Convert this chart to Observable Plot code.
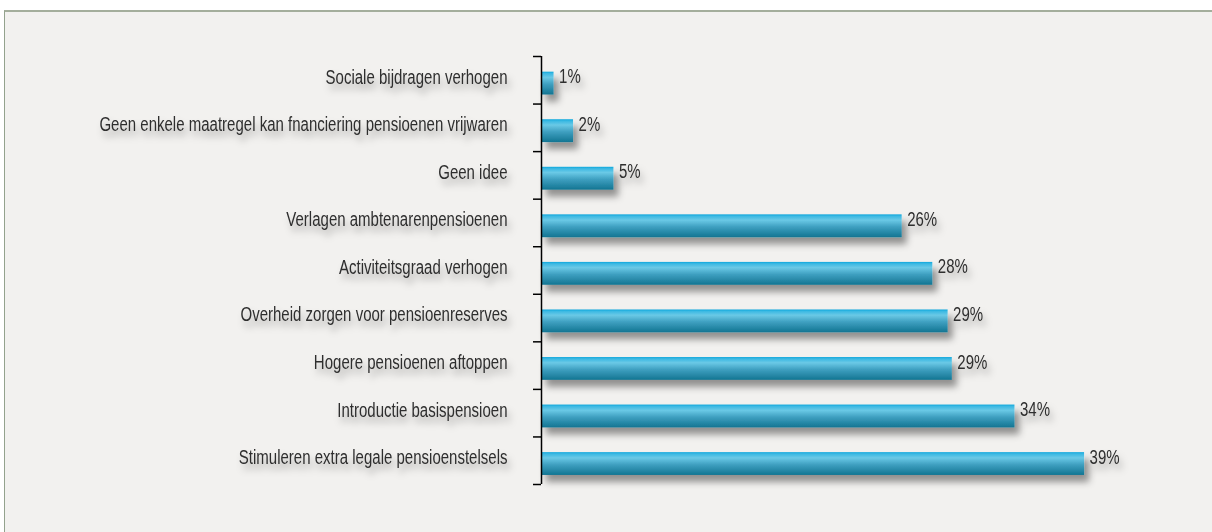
<!DOCTYPE html>
<html><head><meta charset="utf-8">
<script src="https://cdn.jsdelivr.net/npm/d3@7"></script>
<script src="https://cdn.jsdelivr.net/npm/@observablehq/plot@0.6"></script>
<style>
body{margin:0;background:#fff;width:1212px;height:532px;overflow:hidden;position:relative}
#frame{position:absolute;left:4px;top:10px;width:1220px;height:540px;background:#f2f1ef;border-top:2px solid #a4ae9c;border-left:1px solid #93a28d}
#chart{position:absolute;left:0;top:0}
</style></head><body><div id="frame"></div><div id="chart"></div>
<script>
const categories = [
  "Sociale bijdragen verhogen",
  "Geen enkele maatregel kan fnanciering pensioenen vrijwaren",
  "Geen idee",
  "Verlagen ambtenarenpensioenen",
  "Activiteitsgraad verhogen",
  "Overheid zorgen voor pensioenreserves",
  "Hogere pensioenen aftoppen",
  "Introductie basispensioen",
  "Stimuleren extra legale pensioenstelsels"
];
const values = [0.9, 2.3, 5.2, 25.9, 28.1, 29.2, 29.5, 34.0, 39.0];
const valueLabels = ["1%", "2%", "5%", "26%", "28%", "29%", "29%", "34%", "39%"];

const data = categories.map((c, i) => ({category: c, value: values[i], label: valueLabels[i], i}));
const font = "'Liberation Sans', Arial, sans-serif";

const plot = Plot.plot({
  width: 1212, height: 532,
  marginLeft: 541, marginRight: 114, marginTop: 56, marginBottom: 48,
  style: {background: "transparent", overflow: "visible", fontFamily: font},
  x: {domain: [0, 40], axis: null},
  y: {domain: [0, 9], reverse: true, axis: null},
  marks: [
    Plot.rectX(data, {x1: 0, x2: "value", y1: d => d.i + 0.33, y2: d => d.i + 0.81, fill: "url(#barGrad)", className: "bars"}),
    Plot.text(data, {x: 0, y: d => d.i + 0.43, text: "category", textAnchor: "end", dx: -34, fontSize: 21, fill: "#2e2e2e", className: "cats"}),
    Plot.text(data, {x: "value", y: d => d.i + 0.42, text: "label", textAnchor: "start", dx: 5, fontSize: 21, fill: "#2e2e2e", className: "vals"}),
    Plot.axisY({ticks: d3.range(10), tickFormat: () => "", tickSize: 8, stroke: "#000", strokeWidth: 1.5}),
    Plot.ruleX([0], {y1: 0, y2: 9, stroke: "#000", strokeWidth: 1.5})
  ]
});

const svg = d3.select(plot);
const defs = svg.insert("defs", ":first-child");
const g = defs.append("linearGradient").attr("id", "barGrad").attr("x1", 0).attr("y1", 0).attr("x2", 0).attr("y2", 1);
[[0, "#0ea7dc"], [0.08, "#3cb9e3"], [0.25, "#6ac9e6"], [0.55, "#3e9fc0"], [1, "#137592"]]
  .forEach(([o, c]) => g.append("stop").attr("offset", o).attr("stop-color", c));
const f1 = defs.append("filter").attr("id", "barShadow").attr("x", "-10%").attr("y", "-50%").attr("width", "130%").attr("height", "280%");
f1.append("feDropShadow").attr("dx", 5).attr("dy", 7).attr("stdDeviation", 3.5).attr("flood-color", "#000").attr("flood-opacity", 0.4);
const f2 = defs.append("filter").attr("id", "textShadow").attr("x", "-10%").attr("y", "-50%").attr("width", "130%").attr("height", "250%");
f2.append("feDropShadow").attr("dx", 3).attr("dy", 6).attr("stdDeviation", 3.5).attr("flood-color", "#000").attr("flood-opacity", 0.3);
svg.selectAll("g.bars").attr("filter", "url(#barShadow)");
svg.selectAll("g.cats, g.vals").attr("filter", "url(#textShadow)");
svg.selectAll("g.cats text, g.vals text").each(function() {
  const t = this.getAttribute("transform") || "";
  this.setAttribute("transform", t + " scale(0.715,1)");
});

document.getElementById("chart").appendChild(plot);
</script>
</body></html>
